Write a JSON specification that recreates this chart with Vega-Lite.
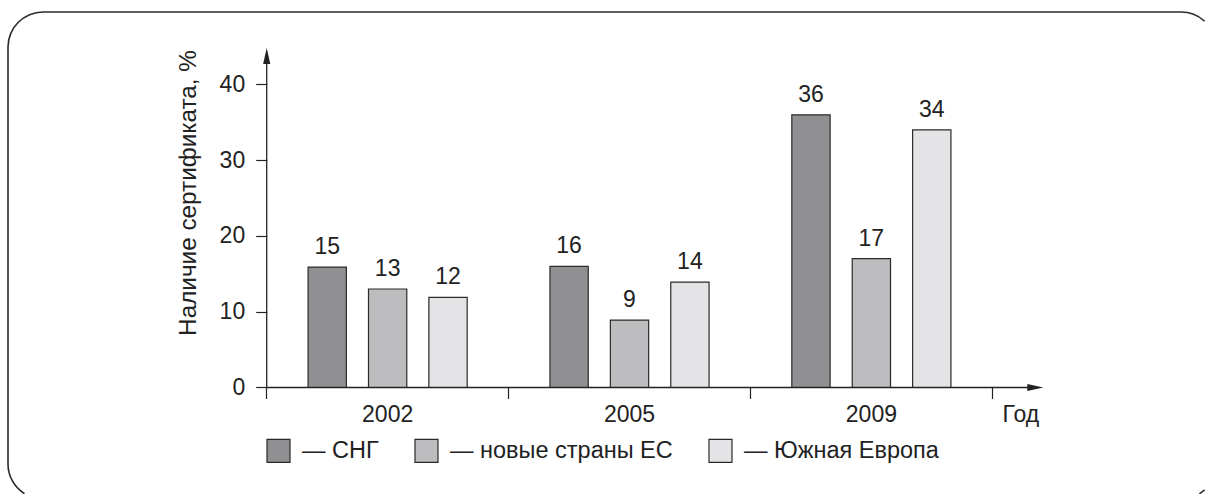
{
  "$schema": "https://vega.github.io/schema/vega-lite/v6.json",
  "width": 1197,
  "height": 482,
  "autosize": {"type": "none"},
  "padding": {"left": 8, "top": 12, "right": 0, "bottom": 0},
  "background": "white",
  "config": {
    "font": "Liberation Sans",
    "view": {"stroke": null, "fill": null},
    "axis": {"grid": false}
  },
  "data": {
    "values": [
      {"year": "2002", "series": "СНГ", "value": 15.9, "label": "15"},
      {"year": "2002", "series": "новые страны ЕС", "value": 13, "label": "13"},
      {"year": "2002", "series": "Южная Европа", "value": 11.9, "label": "12"},
      {"year": "2005", "series": "СНГ", "value": 16, "label": "16"},
      {"year": "2005", "series": "новые страны ЕС", "value": 8.9, "label": "9"},
      {"year": "2005", "series": "Южная Европа", "value": 13.9, "label": "14"},
      {"year": "2009", "series": "СНГ", "value": 36, "label": "36"},
      {"year": "2009", "series": "новые страны ЕС", "value": 17, "label": "17"},
      {"year": "2009", "series": "Южная Европа", "value": 34, "label": "34"}
    ]
  },
  "resolve": {"axis": {"x": "independent"}},
  "layer": [
    {
      "mark": {"type": "bar", "stroke": "#2a2a2a", "strokeWidth": 1.2},
      "encoding": {
        "x": {
          "field": "year", "type": "nominal",
          "scale": {"type": "band", "domain": ["2002", "2005", "2009"], "paddingInner": 0, "paddingOuter": 0.9745, "align": 0.5488},
          "axis": {
            "orient": "bottom", "offset": -106.5, "domain": false, "ticks": false,
            "labelFontSize": 23, "labelPadding": 16, "labelAngle": 0, "labelColor": "#222",
            "title": "Год", "titleFontSize": 23, "titleFontWeight": "normal", "titleColor": "#222",
            "titleX": 994, "titleY": 16, "titleAlign": "left", "titleBaseline": "top"
          }
        },
        "xOffset": {
          "field": "series", "type": "nominal",
          "sort": ["СНГ", "новые страны ЕС", "Южная Европа"],
          "scale": {"domain": ["СНГ", "новые страны ЕС", "Южная Европа"], "paddingInner": 0.366, "paddingOuter": 0.685}
        },
        "y": {
          "field": "value", "type": "quantitative", "stack": null,
          "scale": {"domain": [-14.06, 49.57], "nice": false, "zero": false},
          "axis": {
            "orient": "left", "offset": -258.7, "domain": false, "values": [0, 10, 20, 30, 40],
            "tickSize": 11, "tickColor": "#222", "tickWidth": 1.2,
            "labelFontSize": 23, "labelPadding": 11, "labelColor": "#222",
            "title": "Наличие сертификата, %", "titleFontSize": 24.3, "titleFontWeight": "normal", "titleColor": "#222",
            "titleAngle": -90, "titleX": -71, "titleY": 180.5, "titleAlign": "center", "titleBaseline": "alphabetic"
          }
        },
        "y2": {"datum": 0},
        "fill": {
          "field": "series", "type": "nominal",
          "scale": {"domain": ["СНГ", "новые страны ЕС", "Южная Европа"], "range": ["#909093", "#bdbdc0", "#e4e4e6"]},
          "legend": {
            "orient": "none", "legendX": 258, "legendY": 426, "direction": "horizontal", "columns": 3,
            "title": null, "symbolType": "square", "symbolSize": 529, "symbolStrokeColor": "#2a2a2a",
            "symbolStrokeWidth": 1.2, "symbolOpacity": 1, "labelFontSize": 23.5, "labelColor": "#222",
            "labelOffset": 11, "columnPadding": 33, "labelExpr": "'— ' + datum.label", "labelLimit": 400, "padding": 0
          }
        }
      }
    },
    {
      "mark": {"type": "text", "baseline": "alphabetic", "dy": -13, "fontSize": 23, "fill": "#222"},
      "encoding": {
        "x": {"field": "year", "type": "nominal", "axis": null},
        "xOffset": {"field": "series", "type": "nominal"},
        "y": {"field": "value", "type": "quantitative"},
        "text": {"field": "label"}
      }
    },
    {
      "data": {"values": [{}]},
      "mark": {"type": "rule", "stroke": "#222", "strokeWidth": 1.3},
      "encoding": {
        "x": {"datum": "2002", "type": "nominal", "bandPosition": 0, "axis": null},
        "y": {"datum": 0, "type": "quantitative"},
        "y2": {"datum": 44.3}
      }
    },
    {
      "data": {"values": [{}]},
      "mark": {"type": "rule", "stroke": "#222", "strokeWidth": 1.3},
      "encoding": {
        "x": {
          "datum": "2002", "type": "nominal", "bandPosition": 0,
          "axis": {
            "orient": "bottom", "offset": -106.5, "domain": false, "labels": false, "ticks": true,
            "tickSize": 11, "tickColor": "#222", "tickWidth": 1.2, "bandPosition": 1, "tickExtra": true, "title": null
          }
        },
        "x2": {"datum": "2009", "bandPosition": 1.15},
        "y": {"datum": 0, "type": "quantitative"}
      }
    },
    {
      "data": {"values": [{}]},
      "mark": {"type": "point", "shape": "M0,0L-2,-0.45L-2,0.45Z", "size": 256, "filled": true, "fill": "#222", "opacity": 1, "strokeWidth": 0},
      "encoding": {
        "x": {"datum": "2009", "type": "nominal", "bandPosition": 1.211, "axis": null},
        "y": {"datum": 0, "type": "quantitative"}
      }
    },
    {
      "data": {"values": [{}]},
      "mark": {"type": "point", "shape": "M0,0L-0.45,2L0.45,2Z", "size": 256, "filled": true, "fill": "#222", "opacity": 1, "strokeWidth": 0},
      "encoding": {
        "x": {"datum": "2002", "type": "nominal", "bandPosition": 0, "axis": null},
        "y": {"datum": 44.82, "type": "quantitative"}
      }
    },
    {
      "data": {"values": [{}]},
      "mark": {"type": "rule", "stroke": "#2a2a2a", "strokeWidth": 1.6},
      "encoding": {
        "x": {"datum": "2002", "type": "nominal", "bandPosition": -0.9249, "axis": null},
        "x2": {"datum": "2009", "bandPosition": 1.7801},
        "y": {"datum": 49.57, "type": "quantitative"}
      }
    },
    {
      "data": {"values": [{}]},
      "mark": {"type": "rule", "stroke": "#2a2a2a", "strokeWidth": 1.6},
      "encoding": {
        "x": {"datum": "2002", "type": "nominal", "bandPosition": -1.0696, "axis": null},
        "y": {"datum": 44.95, "type": "quantitative"},
        "y2": {"datum": -10.1}
      }
    },
    {
      "data": {"values": [{}]},
      "mark": {"type": "arc", "radius": 35.8, "radius2": 34.2, "theta": 4.7124, "theta2": 6.2832, "fill": "#2a2a2a"},
      "encoding": {
        "x": {"datum": "2002", "type": "nominal", "bandPosition": -0.9249, "axis": null},
        "y": {"datum": 44.95, "type": "quantitative"}
      }
    },
    {
      "data": {"values": [{}]},
      "mark": {"type": "arc", "radius": 35.8, "radius2": 34.2, "theta": 0, "theta2": 0.74, "fill": "#2a2a2a"},
      "encoding": {
        "x": {"datum": "2009", "type": "nominal", "bandPosition": 1.7801, "axis": null},
        "y": {"datum": 44.95, "type": "quantitative"}
      }
    },
    {
      "data": {"values": [{}]},
      "mark": {"type": "arc", "radius": 35.8, "radius2": 34.2, "theta": 3.7, "theta2": 4.7124, "fill": "#2a2a2a"},
      "encoding": {
        "x": {"datum": "2002", "type": "nominal", "bandPosition": -0.9249, "axis": null},
        "y": {"datum": -10.1, "type": "quantitative"}
      }
    },
    {
      "data": {"values": [{}]},
      "mark": {"type": "arc", "radius": 35.8, "radius2": 34.2, "theta": 2.4, "theta2": 2.59, "fill": "#2a2a2a"},
      "encoding": {
        "x": {"datum": "2009", "type": "nominal", "bandPosition": 1.7801, "axis": null},
        "y": {"datum": -10.1, "type": "quantitative"}
      }
    }
  ]
}
